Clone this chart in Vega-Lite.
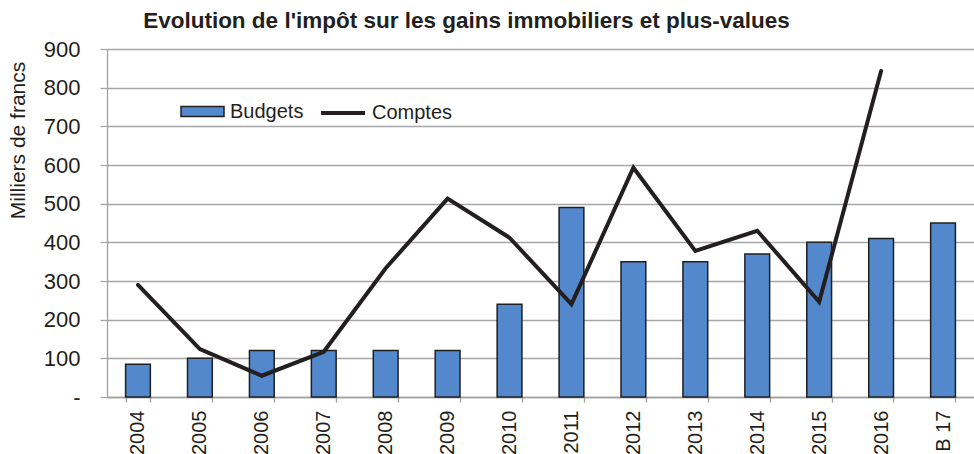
{
  "$schema": "https://vega.github.io/schema/vega-lite/v6.json",
  "width": 867,
  "height": 348,
  "autosize": {"type": "none"},
  "padding": {"left": 107, "top": 49, "right": 0, "bottom": 57},
  "background": "white",
  "title": {
    "text": "Evolution de l'impôt sur les gains immobiliers et plus-values",
    "font": "Liberation Sans",
    "fontSize": 22.5,
    "fontWeight": "bold",
    "color": "#231f20",
    "anchor": "middle",
    "frame": "group",
    "dx": -74,
    "offset": 6
  },
  "config": {
    "view": {"stroke": null},
    "font": "Liberation Sans",
    "axisY": {
      "title": "Milliers de francs",
      "titleFont": "Liberation Sans",
      "titleFontSize": 21,
      "titleFontWeight": "normal",
      "titleColor": "#231f20",
      "titleAngle": -90,
      "titleX": -89,
      "titleY": 91,
      "titleAlign": "center",
      "titleBaseline": "middle",
      "labelOverlap": false,
      "labelFontSize": 22,
      "labelFont": "Liberation Sans",
      "labelColor": "#231f20",
      "labelPadding": 20,
      "tickSize": 7,
      "tickColor": "#a6a6a6",
      "tickWidth": 1.3,
      "domainColor": "#a0a0a0",
      "domainWidth": 1.3,
      "grid": true,
      "gridColor": "#a6a6a6",
      "gridWidth": 1.3
    }
  },
  "data": {
    "values": [
      {"year": "2004", "Budgets": 85, "Comptes": 290},
      {"year": "2005", "Budgets": 100, "Comptes": 124},
      {"year": "2006", "Budgets": 120, "Comptes": 55},
      {"year": "2007", "Budgets": 120, "Comptes": 117},
      {"year": "2008", "Budgets": 120, "Comptes": 333},
      {"year": "2009", "Budgets": 120, "Comptes": 513},
      {"year": "2010", "Budgets": 240, "Comptes": 412},
      {"year": "2011", "Budgets": 490, "Comptes": 240},
      {"year": "2012", "Budgets": 350, "Comptes": 593},
      {"year": "2013", "Budgets": 350, "Comptes": 378},
      {"year": "2014", "Budgets": 370, "Comptes": 430},
      {"year": "2015", "Budgets": 400, "Comptes": 246},
      {"year": "2016", "Budgets": 410, "Comptes": 843},
      {"year": "B 17", "Budgets": 450, "Comptes": null}
    ]
  },
  "encoding": {
    "x": {
      "field": "year",
      "type": "nominal",
      "sort": null,
      "scale": {"paddingInner": 0.6, "paddingOuter": 0.3},
      "axis": {
        "title": null,
        "labelAngle": -90,
        "labelFontSize": 20,
        "labelFont": "Liberation Sans",
        "labelColor": "#231f20",
        "labelPadding": 8,
        "tickBand": "extent",
        "tickSize": 5,
        "tickColor": "#a0a0a0",
        "domainColor": "#a0a0a0",
        "domainWidth": 1.3,
        "tickWidth": 1.3,
        "grid": false
      }
    }
  },
  "layer": [
    {
      "mark": {"type": "bar", "stroke": "#1f1f1f", "strokeWidth": 1.5},
      "encoding": {
        "y": {
          "field": "Budgets",
          "type": "quantitative",
          "scale": {"domain": [0, 900], "nice": false},
          "axis": {
            "title": "Milliers de francs",
            "values": [0, 100, 200, 300, 400, 500, 600, 700, 800, 900],
            "labelOverlap": false,
            "labelExpr": "datum.value == 0 ? '-\u00a0\u00a0' : datum.label"
          }
        },
        "fill": {
          "datum": "Budgets",
          "type": "nominal",
          "scale": {"range": ["#5389cc"]},
          "legend": {
            "title": null,
            "orient": "none",
            "legendX": 73,
            "legendY": 40,
            "padding": 0,
            "symbolType": "M-1,-0.23H1V0.23H-1Z",
            "symbolSize": 1849,
            "symbolStrokeColor": "#1f1f1f",
            "symbolStrokeWidth": 1.5,
            "labelFontSize": 20,
            "labelFont": "Liberation Sans",
            "labelColor": "#231f20",
            "labelOffset": 5
          }
        }
      }
    },
    {
      "mark": {"type": "line", "strokeWidth": 4, "strokeCap": "round", "strokeJoin": "miter"},
      "encoding": {
        "y": {
          "field": "Comptes",
          "type": "quantitative",
          "scale": {"domain": [0, 900], "nice": false},
          "axis": {
            "title": "Milliers de francs",
            "values": [0, 100, 200, 300, 400, 500, 600, 700, 800, 900],
            "labelOverlap": false,
            "labelExpr": "datum.value == 0 ? '-\u00a0\u00a0' : datum.label"
          }
        },
        "stroke": {
          "datum": "Comptes",
          "type": "nominal",
          "scale": {"range": ["#231f20"]},
          "legend": {
            "title": null,
            "orient": "none",
            "legendX": 212,
            "legendY": 40,
            "padding": 0,
            "symbolType": "stroke",
            "symbolSize": 1936,
            "symbolStrokeWidth": 4,
            "labelFontSize": 20,
            "labelFont": "Liberation Sans",
            "labelColor": "#231f20",
            "labelOffset": 5
          }
        }
      }
    }
  ]
}
